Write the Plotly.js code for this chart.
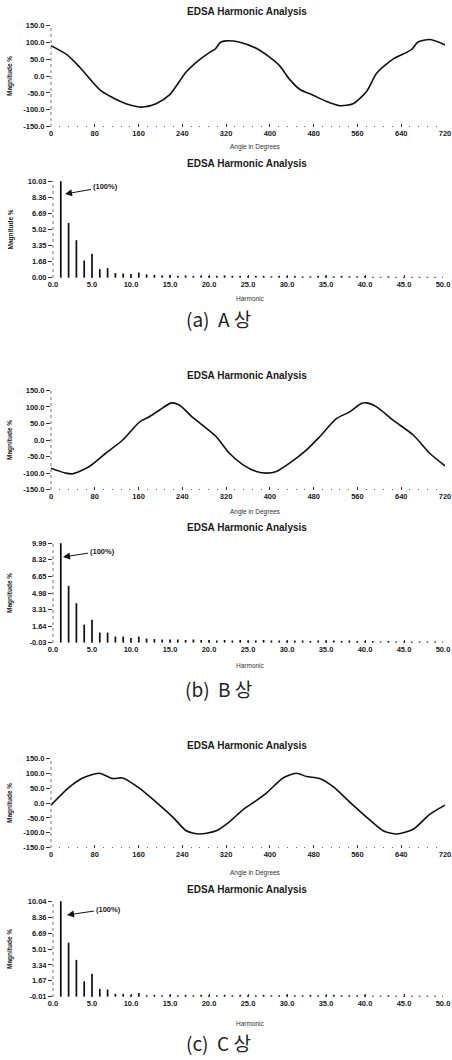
<!DOCTYPE html>
<html>
<head>
<meta charset="utf-8">
<script src="https://cdn.plot.ly/plotly-3.0.1.min.js"></script>
<style>
html,body{margin:0;padding:0;background:#fff;}
#chart{width:452px;height:1060px;}
</style>
</head>
<body>
<div id="chart"></div>
<script>
// ---------- DATA ----------
const chartTitle = "EDSA Harmonic Analysis";
const waveXTitle = "Angle in Degrees";
const harmXTitle = "Harmonic";
const yTitle = "Magnitude %";
const captions = ["(a)  A 상", "(b)  B 상", "(c)  C 상"];
const peakLabel = "(100%)";

const waveA_deg = [0,29,53,90,108,137,168,192,217,247,271,290,300,310,320,345,375,400,418,436,455,479,503,528,552,577,595,625,650,660,670,693,720];
const waveA_pct = [90,63,25,-42,-60,-82,-92,-82,-55,12,48,70,80,100,104,100,82,55,30,-10,-40,-57,-75,-88,-82,-45,8,50,70,80,100,108,92];

const waveB_deg = [0,27,40,70,100,131,162,177,198,220,235,259,284,302,326,351,375,394,412,436,467,491,522,546,567,577,595,625,662,692,720];
const waveB_pct = [-85,-100,-102,-80,-40,0,55,68,90,112,105,68,35,10,-40,-75,-95,-100,-95,-70,-30,10,65,85,110,112,100,60,15,-40,-78];

const waveC_deg = [0,34,58,88,113,131,162,192,223,247,271,302,326,351,375,394,424,448,467,491,516,546,577,607,632,662,692,720];
const waveC_pct = [-7,54,84,100,82,84,49,3,-48,-93,-104,-93,-63,-22,8,34,84,100,89,82,54,3,-48,-93,-104,-88,-38,-7];

const harmonicOrder = [1,2,3,4,5,6,7,8,9,10,11,12,13,14,15,16,17,18,19,20,21,22,23,24,25,26,27,28,29,30,31,32,33,34,35,36,37,38,39,40,41,42,43,44,45,46,47,48,49,50];
const harmA = [10.03,5.7,3.9,1.8,2.5,0.9,1.0,0.5,0.45,0.4,0.55,0.35,0.3,0.25,0.3,0.2,0.25,0.2,0.25,0.2,0.2,0.25,0.2,0.2,0.15,0.2,0.2,0.15,0.2,0.15,0.2,0.15,0.15,0.2,0.25,0.15,0.2,0.15,0.15,0.2,0.1,0.1,0.15,0.1,0.1,0.1,0.1,0.1,0.1,0.1];
const harmB = [9.99,5.7,3.95,1.8,2.3,1.0,1.0,0.6,0.6,0.45,0.6,0.4,0.35,0.3,0.3,0.3,0.25,0.3,0.25,0.25,0.2,0.25,0.2,0.25,0.2,0.2,0.25,0.2,0.2,0.2,0.2,0.2,0.15,0.2,0.2,0.2,0.15,0.2,0.15,0.15,0.15,0.1,0.15,0.1,0.1,0.1,0.1,0.1,0.1,0.1];
const harmC = [10.04,5.68,3.87,1.62,2.42,0.82,0.75,0.3,0.3,0.2,0.4,0.15,0.2,0.15,0.2,0.15,0.2,0.15,0.2,0.15,0.15,0.2,0.15,0.2,0.15,0.15,0.2,0.15,0.15,0.2,0.15,0.15,0.2,0.15,0.15,0.2,0.15,0.15,0.15,0.2,0.1,0.1,0.15,0.1,0.1,0.1,0.1,0.1,0.1,0.1];

const waveTicks = [-150,-100,-50,0,50,100,150];
const angleTicks = [0,80,160,240,320,400,480,560,640,720];
const harmXTicks = [0,5,10,15,20,25,30,35,40,45,50];
const harmYTicksA = [0.00,1.68,3.35,5.02,6.69,8.36,10.03];
const harmYTicksB = [-0.03,1.64,3.31,4.98,6.65,8.32,9.99];
const harmYTicksC = [-0.01,1.67,3.34,5.01,6.69,8.36,10.04];

// ---------- LAYOUT HELPERS ----------
const W = 452, H = 1060;
const px = p => p / W;
const py = p => 1 - p / H;
const FONT = "Liberation Sans, Arial, sans-serif";
const ink = "#1a1a1a";

// pixel geometry of each panel: [left, right, top, bottom]
const panels = [
  {kind:"wave", x:[51,445], y:[25,127],  title:11,  xlab:147, cap:null},
  {kind:"harm", x:[53,443], y:[181,278], title:163, xlab:298, cap:318},
  {kind:"wave", x:[51,445], y:[390,490], title:375, xlab:512, cap:null},
  {kind:"harm", x:[53,443], y:[543,643], title:527, xlab:665, cap:688},
  {kind:"wave", x:[51,445], y:[758,848], title:745, xlab:873, cap:null},
  {kind:"harm", x:[53,443], y:[901,997], title:889, xlab:1023, cap:1042}
];
const waves = [[waveA_deg,waveA_pct],[waveB_deg,waveB_pct],[waveC_deg,waveC_pct]];
const harms = [harmA,harmB,harmC];
const harmTicks = [harmYTicksA,harmYTicksB,harmYTicksC];
const arrows = [
  {tip:[65,194], text:[105,187]},
  {tip:[63,557], text:[102,551]},
  {tip:[67,915], text:[108,909]}
];

const tickfont = {family: FONT, size: 7.5, color: ink, weight: "bold"};
const traces = [];
const layout = {
  width: W, height: H,
  margin: {l:0, r:0, t:0, b:0},
  paper_bgcolor: "#fff", plot_bgcolor: "#fff",
  showlegend: false,
  annotations: [],
  shapes: [],
  font: {family: FONT, color: ink}
};

panels.forEach((p, i) => {
  const n = i + 1;
  const xa = "xaxis" + (n === 1 ? "" : n);
  const ya = "yaxis" + (n === 1 ? "" : n);
  const xr = "x" + (n === 1 ? "" : n);
  const yr = "y" + (n === 1 ? "" : n);
  const idx = Math.floor(i / 2);
  const xdom = [px(p.x[0]), px(p.x[1])];
  const ydom = [py(p.y[1]), py(p.y[0])];

  // dotted left axis line
  layout.shapes.push({
    type: "line", xref: "paper", yref: "paper",
    x0: xdom[0], x1: xdom[0], y0: ydom[0], y1: ydom[1],
    line: {color: "#777", width: 1, dash: "dot"}
  });

  if (p.kind === "wave") {
    traces.push({
      type: "scatter", mode: "lines",
      x: waves[idx][0], y: waves[idx][1],
      xaxis: xr, yaxis: yr,
      line: {color: "#111", width: 1.6, shape: "spline", smoothing: 0.7},
      hoverinfo: "skip"
    });
    layout[xa] = {
      domain: xdom, anchor: yr, range: [0, 720],
      tickvals: angleTicks, ticktext: angleTicks.map(String),
      ticks: "inside", ticklen: 3, tickwidth: 1, tickcolor: "#333",
      minor: {dtick: 16, ticks: "inside", ticklen: 1.5, tickcolor: "#666", tickwidth: 1},
      showgrid: false, zeroline: false, showline: false,
      tickfont: tickfont, fixedrange: true
    };
    layout[ya] = {
      domain: ydom, anchor: xr, range: [-151, 151],
      tickvals: waveTicks, ticktext: waveTicks.map(v => v.toFixed(1)),
      ticks: "outside", ticklen: 4, tickwidth: 1, tickcolor: "#333",
      showgrid: false, zeroline: false, showline: false,
      tickfont: tickfont, fixedrange: true
    };
    layout.annotations.push({
      xref: "paper", yref: "paper", x: px(255), y: py(p.xlab),
      text: waveXTitle, showarrow: false, xanchor: "center", yanchor: "middle",
      font: {family: FONT, size: 6.5, color: "#333"}
    });
  } else {
    const tv = harmTicks[idx];
    traces.push({
      type: "bar", x: harmonicOrder, y: harms[idx],
      xaxis: xr, yaxis: yr, width: 0.22,
      marker: {color: "#111", line: {width: 0}},
      hoverinfo: "skip"
    });
    layout[xa] = {
      domain: xdom, anchor: yr, range: [0, 50],
      tickvals: harmXTicks, ticktext: harmXTicks.map(v => v.toFixed(1)),
      ticks: "inside", ticklen: 3, tickwidth: 1, tickcolor: "#333",
      minor: {dtick: 1, ticks: "inside", ticklen: 1.5, tickcolor: "#666", tickwidth: 1},
      showgrid: false, zeroline: false, showline: false,
      tickfont: tickfont, fixedrange: true
    };
    layout[ya] = {
      domain: ydom, anchor: xr, range: [tv[0] - 0.02, tv[tv.length-1] + 0.02],
      tickvals: tv, ticktext: tv.map(v => v.toFixed(2)),
      ticks: "outside", ticklen: 4, tickwidth: 1, tickcolor: "#333",
      showgrid: false, zeroline: false, showline: false,
      tickfont: tickfont, fixedrange: true
    };
    layout.annotations.push({
      xref: "paper", yref: "paper", x: px(250), y: py(p.xlab),
      text: harmXTitle, showarrow: false, xanchor: "center", yanchor: "middle",
      font: {family: FONT, size: 6.5, color: "#333"}
    });
    const a = arrows[idx];
    layout.annotations.push({
      xref: "paper", yref: "paper", x: px(a.tip[0]), y: py(a.tip[1]),
      ax: a.text[0] - a.tip[0], ay: a.text[1] - a.tip[1], axref: "pixel", ayref: "pixel",
      text: peakLabel, showarrow: true, arrowhead: 2, arrowsize: 1.4, arrowwidth: 1, arrowcolor: "#111",
      standoff: 0, startstandoff: 0,
      font: {family: FONT, size: 7.5, color: ink, weight: "bold"}
    });
    layout.annotations.push({
      xref: "paper", yref: "paper", x: px(218), y: py(p.cap),
      text: captions[idx], showarrow: false, xanchor: "center", yanchor: "middle",
      font: {family: "Noto Sans CJK KR, DejaVu Sans, sans-serif", size: 19, color: "#222"}
    });
  }
  // panel title
  layout.annotations.push({
    xref: "paper", yref: "paper", x: px(247), y: py(p.title),
    text: chartTitle, showarrow: false, xanchor: "center", yanchor: "middle",
    font: {family: FONT, size: 10, color: ink, weight: "bold"}
  });
  // y axis title
  layout.annotations.push({
    xref: "paper", yref: "paper", x: px(10), y: py((p.y[0]+p.y[1])/2),
    text: yTitle, showarrow: false, textangle: -90, xanchor: "center", yanchor: "middle",
    font: {family: FONT, size: 6.5, color: ink, weight: "bold"}
  });
});

Plotly.newPlot("chart", traces, layout, {displayModeBar: false, staticPlot: true});
</script>
</body>
</html>
